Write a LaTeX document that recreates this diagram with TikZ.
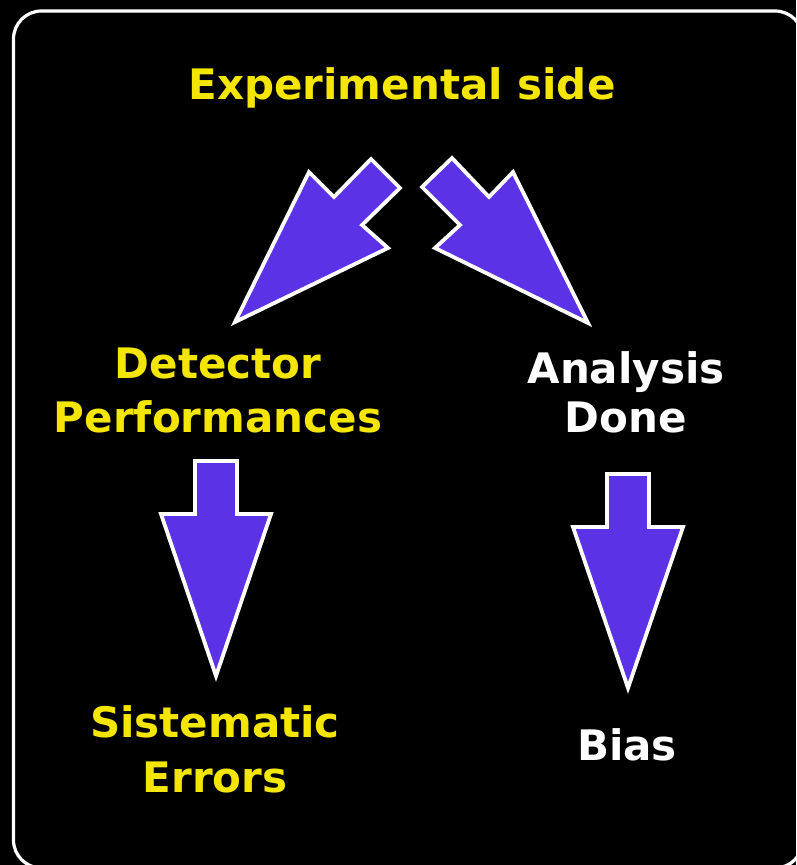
\documentclass[tikz,border=0pt]{standalone}
\usepackage{fontspec}
\setmainfont{DejaVu Sans}
\usetikzlibrary{positioning}
\definecolor{yl}{HTML}{F4E600}
\definecolor{pu}{HTML}{5C32E6}
\tikzset{
    blockarrow/.style={fill=pu, draw=white, line width=1.9pt, line join=miter},
    lbl/.style={font=\fontsize{21}{27}\selectfont\bfseries, align=center, anchor=base, inner sep=0pt}
}

\begin{document}
\begin{tikzpicture}[x=0.5pt, y=-0.5pt]
			% Frame
			\useasboundingbox (0,0) rectangle (796,865);
			\fill[black] (0,0) rectangle (796,865);
			\draw[white, line width=1.6pt, rounded corners=14pt] (13.5,11) rectangle (803,868);

			% Labels (base = last line)
			\node[lbl, yl] (exp) at (402,100) {Experimental side};
			\node[lbl, yl] (det) at (218,432) {Detector\\Performances};
			\node[lbl, white] (ana) at (626,432) {Analysis\\[-2.5pt]Done};
			\node[lbl, yl] (sys) at (215,792) {Sistematic\\[0.5pt]Errors};
			\node[lbl, white] (bias) at (627,760) {Bias};

			% Block arrows
			\draw[blockarrow] (235,322) -- (309,172) -- (334,197) -- (371,159)
			-- (400,188) -- (362,225) -- (388,248) -- cycle;
			\draw[blockarrow] (452,158) -- (422,187) -- (460,225) -- (435,248)
			-- (588,323) -- (513,172) -- (489,197) -- cycle;
			\draw[blockarrow] (195,461) -- (237,461) -- (237,514) -- (271,514)
			-- (216,676) -- (161,514) -- (195,514) -- cycle;
			\draw[blockarrow] (607,474) -- (649,474) -- (649,527) -- (683,527)
			-- (628,688) -- (573,527) -- (607,527) -- cycle;
		\end{tikzpicture}
\end{document}
